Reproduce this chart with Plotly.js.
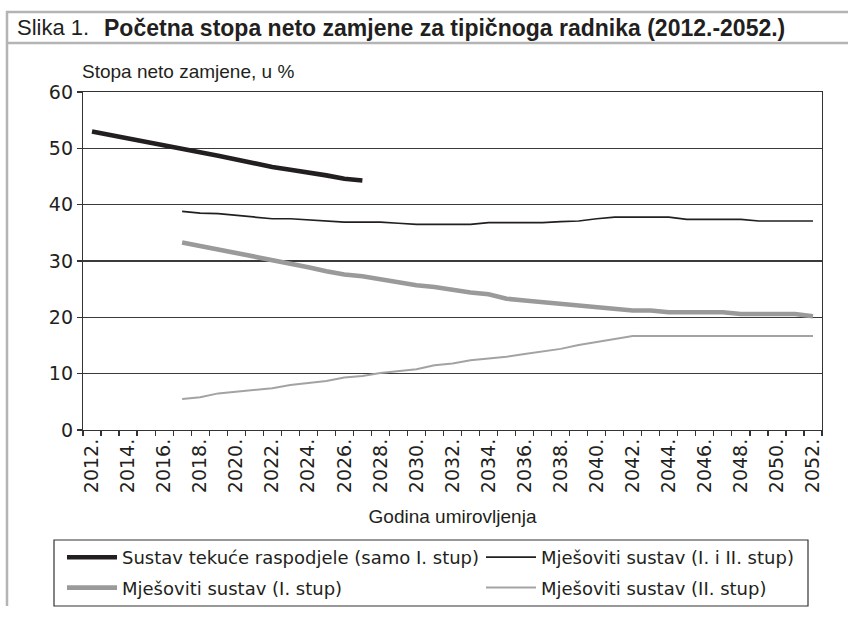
<!DOCTYPE html>
<html>
<head>
<meta charset="utf-8">
<script src="https://cdn.plot.ly/plotly-3.0.1.min.js"></script>
<style>
  html, body { margin: 0; padding: 0; background: #ffffff; }
  #chart { width: 848px; height: 620px; }
</style>
</head>
<body>
<div id="chart"></div>
<script>
// ---- data ----
const years = [2012, 2013, 2014, 2015, 2016, 2017, 2018, 2019, 2020, 2021, 2022,
  2023, 2024, 2025, 2026, 2027, 2028, 2029, 2030, 2031, 2032, 2033, 2034, 2035,
  2036, 2037, 2038, 2039, 2040, 2041, 2042, 2043, 2044, 2045, 2046, 2047, 2048,
  2049, 2050, 2051, 2052];

const tickYears = [2012, 2014, 2016, 2018, 2020, 2022, 2024, 2026, 2028, 2030, 2032,
  2034, 2036, 2038, 2040, 2042, 2044, 2046, 2048, 2050, 2052];
const tickLabels = ["2012.", "2014.", "2016.", "2018.", "2020.", "2022.", "2024.",
  "2026.", "2028.", "2030.", "2032.", "2034.", "2036.", "2038.", "2040.", "2042.",
  "2044.", "2046.", "2048.", "2050.", "2052."];

const seriesNames = [
  "Sustav tekuće raspodjele (samo I. stup)",
  "Mješoviti sustav (I. i II. stup)",
  "Mješoviti sustav (I. stup)",
  "Mješoviti sustav (II. stup)"
];

// 2012 - 2027
const paygOnly = [53.0, 52.4, 51.8, 51.1, 50.5, 50.1, 49.4, 48.7, 48.0, 47.3, 46.7,
  46.2, 45.8, 45.2, 44.6, 44.3];

// 2017 - 2052
const mixedTotal = [38.8, 38.5, 38.4, 38.1, 37.8, 37.5, 37.5, 37.3, 37.2, 36.9, 36.9,
  36.9, 36.7, 36.5, 36.5, 36.5, 36.5, 36.8, 36.8, 36.8, 36.8, 37.0, 37.1, 37.5, 37.8,
  37.8, 37.8, 37.8, 37.4, 37.4, 37.4, 37.4, 37.1, 37.1, 37.1, 37.1];

const mixedPillar1 = [33.3, 32.7, 32.0, 31.3, 30.7, 30.1, 29.5, 28.9, 28.2, 27.6, 27.3,
  26.7, 26.3, 25.7, 25.4, 24.8, 24.4, 24.1, 23.3, 23.0, 22.7, 22.4, 22.1, 21.8, 21.5,
  21.2, 21.2, 20.9, 20.9, 20.9, 20.9, 20.6, 20.6, 20.6, 20.6, 20.2];

const mixedPillar2 = [5.5, 5.8, 6.5, 6.8, 7.1, 7.4, 8.0, 8.3, 8.7, 9.3, 9.6, 10.1, 10.5,
  10.8, 11.5, 11.8, 12.4, 12.7, 13.0, 13.5, 14.0, 14.4, 15.1, 15.6, 16.1, 16.7, 16.7,
  16.7, 16.7, 16.7, 16.7, 16.7, 16.7, 16.7, 16.7, 16.7];

const yearsPayg = years.slice(0, paygOnly.length);
const yearsMixed = years.slice(5);

// ---- geometry helpers (pixel -> paper) for decoration ----
const W = 848, H = 620;
const M = { l: 83, r: 26, t: 92, b: 190 };
const PW = W - M.l - M.r, PH = H - M.t - M.b;
const px = v => (v - M.l) / PW;
const py = v => (H - M.b - v) / PH;

const sans = "Liberation Sans, Arial, sans-serif";
const wide = "DejaVu Sans, Verdana, sans-serif";
const ink = "#231f20";
const frameGray = "#b4b4b4";

const traces = [
  { x: yearsPayg, y: paygOnly, name: seriesNames[0], type: "scatter", mode: "lines",
    legend: "legend", legendgroup: "a", legendrank: 1,
    line: { color: ink, width: 4.6 } },
  { x: yearsMixed, y: mixedTotal, name: seriesNames[1], type: "scatter", mode: "lines",
    legend: "legend2", legendgroup: "b", legendrank: 1,
    line: { color: ink, width: 1.7 } },
  { x: yearsMixed, y: mixedPillar1, name: seriesNames[2], type: "scatter", mode: "lines",
    legend: "legend", legendgroup: "c", legendrank: 2,
    line: { color: "#9a9a9a", width: 4.6 } },
  { x: yearsMixed, y: mixedPillar2, name: seriesNames[3], type: "scatter", mode: "lines",
    legend: "legend2", legendgroup: "d", legendrank: 2,
    line: { color: "#a3a3a3", width: 2 } }
];

const legendCommon = {
  orientation: "v",
  yanchor: "top",
  xanchor: "left",
  bgcolor: "rgba(0,0,0,0)",
  borderwidth: 0,
  font: { family: wide, size: 18, color: ink },
  itemwidth: 50,
  tracegroupgap: 4,
  traceorder: "grouped"
};

const layout = {
  width: W, height: H,
  margin: M,
  paper_bgcolor: "#ffffff",
  plot_bgcolor: "#ffffff",
  showlegend: true,
  font: { family: wide, color: ink },
  xaxis: {
    range: [2011.5, 2052.5],
    tickmode: "array",
    tickvals: tickYears,
    ticktext: tickLabels,
    tickangle: -90,
    ticks: "",
    tickfont: { family: wide, size: 19, color: ink },
    showgrid: false,
    zeroline: false,
    showline: true, linecolor: "#333333", linewidth: 1.2, mirror: true,
    minor: { tick0: 2011.5, dtick: 1, ticks: "outside", ticklen: 5,
      tickcolor: "#333333", tickwidth: 1.2, showgrid: false },
    title: { text: "Godina umirovljenja", standoff: 17,
      font: { family: sans, size: 19, color: ink } },
    fixedrange: true
  },
  yaxis: {
    range: [0, 60],
    tickmode: "linear", tick0: 0, dtick: 10,
    ticks: "outside", ticklen: 5, tickcolor: "#333333", tickwidth: 1.2,
    tickfont: { family: wide, size: 19, color: ink },
    showgrid: true, gridcolor: "#3a3a3a", gridwidth: 1.2,
    zeroline: false,
    showline: true, linecolor: "#333333", linewidth: 1.2, mirror: true,
    fixedrange: true
  },
  legend: Object.assign({}, legendCommon, { x: px(62), y: py(539) }),
  legend2: Object.assign({}, legendCommon, { x: px(481), y: py(539) }),
  annotations: [
    { xref: "paper", yref: "paper", x: px(15), y: py(28), xanchor: "left", yanchor: "middle",
      text: "Slika 1.", showarrow: false,
      font: { family: sans, size: 22, color: ink } },
    { xref: "paper", yref: "paper", x: px(102), y: py(28), xanchor: "left", yanchor: "middle",
      text: "<b>Početna stopa neto zamjene za tipičnoga radnika (2012.-2052.)</b>", showarrow: false,
      font: { family: sans, size: 23, color: ink } },
    { xref: "paper", yref: "paper", x: px(80), y: py(72), xanchor: "left", yanchor: "middle",
      text: "Stopa neto zamjene, u %", showarrow: false,
      font: { family: sans, size: 19, color: ink } }
  ],
  shapes: [
    { type: "line", xref: "paper", yref: "paper", x0: px(6), x1: px(848), y0: py(12), y1: py(12),
      line: { color: frameGray, width: 2.5 } },
    { type: "line", xref: "paper", yref: "paper", x0: px(6), x1: px(848), y0: py(43), y1: py(43),
      line: { color: frameGray, width: 2.5 } },
    { type: "line", xref: "paper", yref: "paper", x0: px(7), x1: px(7), y0: py(11), y1: py(606),
      line: { color: frameGray, width: 2.5 } },
    // legend frame
    { type: "rect", xref: "paper", yref: "paper", x0: px(54), x1: px(808), y0: py(540), y1: py(606),
      line: { color: "#333333", width: 1.2 }, fillcolor: "rgba(0,0,0,0)" }
  ]
};

Plotly.newPlot("chart", traces, layout, { displayModeBar: false, staticPlot: true });
</script>
</body>
</html>
